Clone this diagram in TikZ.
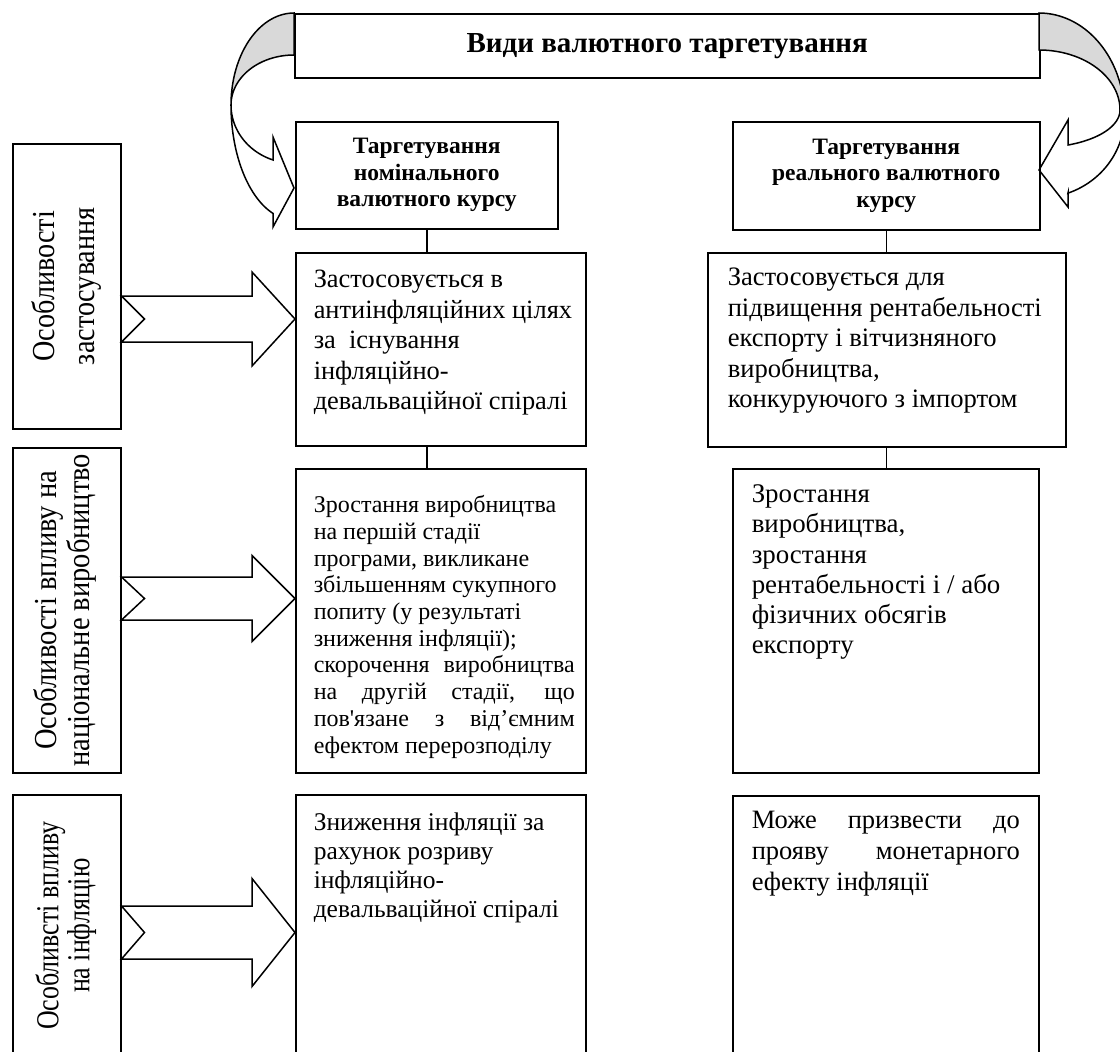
\documentclass[tikz,border=0pt]{standalone}
\usepackage{fontspec}
\setmainfont{Liberation Serif}[Ligatures=TeXOff]
\usepackage{graphicx}
\usetikzlibrary{calc}
\newcommand\jl[1]{\makebox[\dimexpr\hsize-\leftskip-\rightskip\relax][s]{#1}}
% \tb{width}{height}{padL}{padR}{first baseline}{text}
\newcommand\tb[6]{\parbox[c][#2][t]{#1}{\leftskip=#3\rightskip=#4\relax\rule{0pt}{#5}#6\par}}
\newcommand\barrow[5]{%
  \draw[lw, fill=white] ($(#1)+(0,-#3)$) -- ($(#2)+(-#5,-#3)$) -- ($(#2)+(-#5,-#4)$) -- (#2)
    -- ($(#2)+(-#5,#4)$) -- ($(#2)+(-#5,#3)$) -- ($(#1)+(0,#3)$) -- ($(#1)+(23,0)$) -- cycle;}
\tikzset{
  lw/.style={line width=1.5pt, line join=miter},
  bx/.style={draw, lw, inner sep=0pt, anchor=north west},
  hdr/.style={bx, align=center, font=\bfseries\fontsize{23.5}{26.5}\selectfont},
  lbl/.style={bx, minimum width=108pt},
}
\begin{document}
\begin{tikzpicture}[x=1pt,y=-1pt]
\useasboundingbox (0,0) rectangle (1120,1052);
\clip (0,0) rectangle (1120,1052);

% title
\node[bx, minimum width=745pt, minimum height=64pt, font=\bfseries\fontsize{29}{32}\selectfont] (top) at (294,13) {Види валютного таргетування};

% curved arrow left
\filldraw[lw, fill=black!15] plot[domain=270:180, samples=40] ({294+63*cos(\x)},{105+92*sin(\x)})
  -- plot[domain=180:270, samples=40] ({294+63*cos(\x)},{105+50*sin(\x)}) -- cycle;
\filldraw[lw, fill=white] plot[domain=180:109.47, samples=40] ({294+63*cos(\x)},{105+58.3*sin(\x)})
  -- (273,137) -- (294,188) -- (273,227) -- (273,213)
  -- plot[domain=109.47:180, samples=40] ({294+63*cos(\x)},{105+115*sin(\x)}) -- cycle;
% curved arrow right (partly outside the picture)
\filldraw[lw, fill=black!15] plot[domain=270:360, samples=40] ({1039+85.5*cos(\x)},{116+103*sin(\x)})
  -- plot[domain=360:270, samples=40] ({1039+81*cos(\x)},{110+60*sin(\x)}) -- cycle;
\filldraw[lw, fill=white] plot[domain=0:69, samples=40] ({1039+81*cos(\x)},{110+37.5*sin(\x)})
  -- (1068,120) -- (1039,170) -- (1068,207) -- (1068,193)
  -- plot[domain=70.2:0, samples=40] ({1039+85.5*cos(\x)},{116+82*sin(\x)}) -- cycle;

% column headers
\node[hdr, minimum width=262pt, minimum height=107pt] (hl) at (295,121) {Таргетування\\номінального\\валютного курсу};
\node[hdr, minimum width=307pt, minimum height=108pt] (hr) at (732,121) {Таргетування\\реального валютного\\курсу};

% row 1
\node[bx, font=\fontsize{26.4}{30.5}\selectfont] (r1l) at (295,252) {\tb{290pt}{193pt}{18pt}{8pt}{35pt}{Застосовується в\\антиінфляційних цілях\\за\ \ існування\\інфляційно-\\девальваційної спіралі}};
\node[bx, font=\fontsize{26.6}{30.5}\selectfont] (r1r) at (707,252) {\tb{358pt}{194pt}{20pt}{8pt}{33pt}{Застосовується для\\підвищення рентабельності\\експорту і вітчизняного\\виробництва,\\конкуруючого з імпортом}};

% row 2
\node[bx, font=\fontsize{24}{26.7}\selectfont] (r2l) at (295,468) {\tb{290pt}{304pt}{18pt}{11pt}{44pt}{Зростання виробництва\\на першій стадії\\програми, викликане\\збільшенням сукупного\\попиту (у результаті\\зниження інфляції);\\\jl{скорочення виробництва}\\\jl{на другій стадії, що}\\\jl{пов'язане з від’ємним}\\ефектом перерозподілу}};
\node[bx, font=\fontsize{26.9}{30.2}\selectfont] (r2r) at (732,468) {\tb{306pt}{304pt}{19pt}{8pt}{34pt}{Зростання\\виробництва,\\зростання\\рентабельності і / або\\фізичних обсягів\\експорту}};

% row 3
\node[bx, font=\fontsize{25.5}{29}\selectfont] (r3l) at (295,794) {\tb{290pt}{270pt}{18pt}{8pt}{36pt}{Зниження інфляції за\\рахунок розриву\\інфляційно-\\девальваційної спіралі}};
\node[bx, font=\fontsize{26.5}{31}\selectfont] (r3r) at (732,795) {\tb{306pt}{270pt}{19pt}{19pt}{33pt}{\jl{Може призвести до}\\\jl{прояву монетарного}\\ефекту інфляції}};

% connectors
\draw[lw] (hl.south) -- (hl.south |- r1l.north);
\draw[lw] (hl.south |- r1l.south) -- (hl.south |- r2l.north);
\draw[lw] (hr.south) -- (hr.south |- r1r.north);
\draw[lw] (hr.south |- r1r.south) -- (hr.south |- r2r.north);

% left labels
\node[lbl, minimum height=285pt] (L1) at (12,143) {\rotatebox{90}{\scalebox{0.88}[1]{\fontsize{32}{40}\selectfont\begin{tabular}{@{}c@{}}Особливості\\застосування\end{tabular}}}};
\node[lbl, minimum height=325pt] (L2) at (12,447) {\rotatebox{90}{\scalebox{0.89}[1]{\fontsize{32}{33}\selectfont\begin{tabular}{@{}c@{}}Особливості впливу на\\національне виробництво\end{tabular}}}};
\node[lbl, minimum height=262pt] (L3) at (12,794) {\rotatebox{90}{\scalebox{0.81}[1]{\fontsize{32}{29}\selectfont\begin{tabular}{@{}c@{}}Особливсті впливу\\на інфляцію\end{tabular}}}};

% block arrows
\coordinate (a1s) at (L1.east |- 0,319);
\coordinate (a1e) at (r1l.west |- 0,319);
\coordinate (a2s) at (L2.east |- 0,598.5);
\coordinate (a2e) at (r2l.west |- 0,598.5);
\coordinate (a3s) at (L3.east |- 0,932.5);
\coordinate (a3e) at (r3l.west |- 0,932.5);
\barrow{a1s}{a1e}{23}{47}{43}
\barrow{a2s}{a2e}{21.5}{43}{43}
\barrow{a3s}{a3e}{26.5}{54}{43}
\end{tikzpicture}
\end{document}
